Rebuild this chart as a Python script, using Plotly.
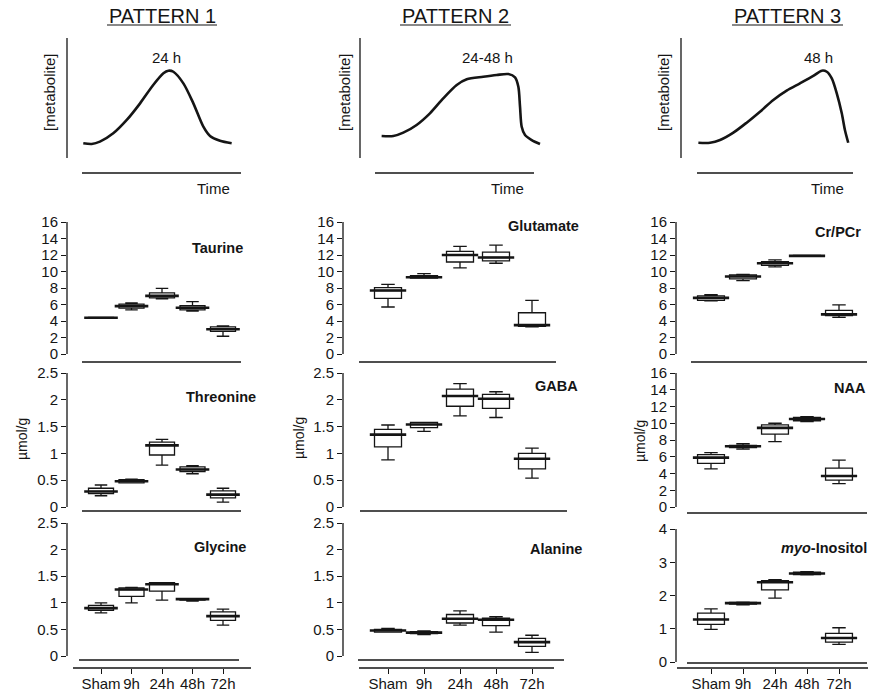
import plotly.graph_objects as go

W, H = 870, 692
FONT = "Liberation Sans, Arial, sans-serif"
INK = "#151515"

# ---------------- data ----------------
CATEGORIES = ["Sham", "9h", "24h", "48h", "72h"]
CAT_POS = [0, 1, 2, 3, 4]

# schematic curves (arbitrary units: time 0-100, metabolite level 0-100)
P1_TIME = [8.8, 13.4, 17.8, 25.0, 32.3, 39.5, 46.6, 52.1, 54.8, 57.5, 62.9, 68.3, 73.7, 77.3, 82.7, 89.0]
P1_LEVEL = [22.0, 21.5, 23.2, 29.4, 39.3, 51.6, 65.2, 73.9, 75.8, 75.0, 66.4, 51.6, 34.3, 27.4, 23.9, 22.0]
P2_TIME = [11.7, 18.0, 23.4, 30.6, 37.8, 45.0, 52.3, 57.7, 66.6, 73.9, 80.2, 83.8, 85.6, 86.5, 87.4, 89.2, 92.8, 97.3]
P2_LEVEL = [27.4, 27.4, 29.9, 35.6, 44.2, 55.3, 65.2, 69.4, 71.3, 72.6, 73.3, 70.9, 63.9, 49.1, 34.3, 28.1, 24.4, 21.5]
P3_TIME = [9.4, 15.7, 21.1, 28.3, 35.5, 42.7, 49.9, 57.1, 64.3, 71.5, 76.1, 78.8, 81.5, 84.2, 86.9, 88.6, 90.4]
P3_LEVEL = [22.4, 22.4, 24.4, 29.9, 37.3, 45.4, 54.1, 61.0, 66.4, 71.9, 75.8, 75.0, 70.1, 59.0, 44.2, 31.9, 22.4]

# box statistics (umol/g): lower whisker, q1, median, q3, upper whisker
TAURINE_LO = [4.35, 5.35, 6.70, 5.20, 2.15]
TAURINE_Q1 = [4.37, 5.55, 6.80, 5.35, 2.75]
TAURINE_MED = [4.40, 5.80, 7.05, 5.60, 3.00]
TAURINE_Q3 = [4.43, 6.05, 7.40, 5.85, 3.30]
TAURINE_HI = [4.45, 6.20, 7.95, 6.35, 3.40]

GLUTAMATE_LO = [5.70, 9.20, 10.45, 11.00, 3.30]
GLUTAMATE_Q1 = [6.75, 9.20, 11.15, 11.30, 3.35]
GLUTAMATE_MED = [7.70, 9.30, 12.00, 11.70, 3.50]
GLUTAMATE_Q3 = [8.05, 9.50, 12.45, 12.35, 5.00]
GLUTAMATE_HI = [8.45, 9.75, 13.05, 13.20, 6.50]

CRPCR_LO = [6.45, 8.90, 10.55, 11.85, 4.45]
CRPCR_Q1 = [6.50, 9.10, 10.75, 11.85, 4.65]
CRPCR_MED = [6.80, 9.40, 11.00, 11.90, 4.80]
CRPCR_Q3 = [7.05, 9.60, 11.20, 11.95, 5.30]
CRPCR_HI = [7.20, 9.65, 11.40, 11.95, 5.95]

THREONINE_LO = [0.21, 0.45, 0.78, 0.62, 0.09]
THREONINE_Q1 = [0.25, 0.45, 0.97, 0.66, 0.17]
THREONINE_MED = [0.29, 0.48, 1.15, 0.70, 0.23]
THREONINE_Q3 = [0.35, 0.51, 1.21, 0.75, 0.30]
THREONINE_HI = [0.41, 0.52, 1.26, 0.77, 0.35]

GABA_LO = [0.88, 1.41, 1.70, 1.67, 0.54]
GABA_Q1 = [1.12, 1.48, 1.88, 1.84, 0.71]
GABA_MED = [1.35, 1.54, 2.07, 2.02, 0.90]
GABA_Q3 = [1.45, 1.58, 2.20, 2.10, 1.00]
GABA_HI = [1.53, 1.58, 2.30, 2.15, 1.10]

NAA_LO = [4.55, 6.90, 7.80, 10.20, 2.80]
NAA_Q1 = [5.20, 7.10, 8.70, 10.30, 3.20]
NAA_MED = [5.90, 7.25, 9.45, 10.50, 3.70]
NAA_Q3 = [6.25, 7.35, 9.80, 10.70, 4.65]
NAA_HI = [6.50, 7.55, 10.00, 10.80, 5.60]

GLYCINE_LO = [0.81, 1.00, 1.05, 1.03, 0.58]
GLYCINE_Q1 = [0.86, 1.12, 1.22, 1.05, 0.67]
GLYCINE_MED = [0.90, 1.25, 1.35, 1.07, 0.75]
GLYCINE_Q3 = [0.95, 1.28, 1.38, 1.08, 0.83]
GLYCINE_HI = [1.00, 1.29, 1.38, 1.08, 0.88]

ALANINE_LO = [0.45, 0.40, 0.58, 0.45, 0.07]
ALANINE_Q1 = [0.45, 0.42, 0.62, 0.57, 0.18]
ALANINE_MED = [0.48, 0.44, 0.70, 0.68, 0.26]
ALANINE_Q3 = [0.50, 0.46, 0.78, 0.71, 0.33]
ALANINE_HI = [0.52, 0.47, 0.85, 0.74, 0.39]

MYO_LO = [0.98, 1.72, 1.92, 2.62, 0.53]
MYO_Q1 = [1.13, 1.74, 2.17, 2.63, 0.60]
MYO_MED = [1.28, 1.77, 2.40, 2.66, 0.72]
MYO_Q3 = [1.47, 1.79, 2.45, 2.70, 0.86]
MYO_HI = [1.60, 1.80, 2.48, 2.72, 1.03]

TICKS_16 = [0, 2, 4, 6, 8, 10, 12, 14, 16]
TICKS_25 = [0, 0.5, 1, 1.5, 2, 2.5]
TICKS_25_TEXT = ["0", "0.5", "1", "1.5", "2", "2.5"]
TICKS_4 = [0, 1, 2, 3, 4]

# ---------------- layout helpers (positions given in window pixels) ----------------
def fx(px):
    return px / W


def fy(py):
    return 1 - py / H


COLS = {
    1: dict(axis=67, right=252, c0=101, step=30.5, boxw=0.82),
    2: dict(axis=343, right=578, c0=388, step=36.0, boxw=0.75),
    3: dict(axis=676, right=869, c0=711, step=32.0, boxw=0.84),
}

PANELS = [
    ("<b>Taurine</b>", 1, 222, 354, 16, 366, TICKS_16, None,
     (TAURINE_LO, TAURINE_Q1, TAURINE_MED, TAURINE_Q3, TAURINE_HI), (218, 248), (82, 241, 362)),
    ("<b>Glutamate</b>", 2, 222, 354, 16, 366, TICKS_16, None,
     (GLUTAMATE_LO, GLUTAMATE_Q1, GLUTAMATE_MED, GLUTAMATE_Q3, GLUTAMATE_HI), (543, 226), (359, 556, 362)),
    ("<b>Cr/PCr</b>", 3, 222, 354, 16, 366, TICKS_16, None,
     (CRPCR_LO, CRPCR_Q1, CRPCR_MED, CRPCR_Q3, CRPCR_HI), (838, 232), (691, 867, 362)),
    ("<b>Threonine</b>", 1, 373, 507, 2.5, 515, TICKS_25, TICKS_25_TEXT,
     (THREONINE_LO, THREONINE_Q1, THREONINE_MED, THREONINE_Q3, THREONINE_HI), (221, 397), (82, 241, 511)),
    ("<b>GABA</b>", 2, 373, 507, 2.5, 515, TICKS_25, TICKS_25_TEXT,
     (GABA_LO, GABA_Q1, GABA_MED, GABA_Q3, GABA_HI), (556, 386), (360, 567, 511)),
    ("<b>NAA</b>", 3, 373, 507, 16, 515, TICKS_16, None,
     (NAA_LO, NAA_Q1, NAA_MED, NAA_Q3, NAA_HI), (850, 388), (687, 867, 513)),
    ("<b>Glycine</b>", 1, 523, 656, 2.5, 668, TICKS_25, TICKS_25_TEXT,
     (GLYCINE_LO, GLYCINE_Q1, GLYCINE_MED, GLYCINE_Q3, GLYCINE_HI), (220, 547), (79, 239, 660)),
    ("<b>Alanine</b>", 2, 523, 656, 2.5, 668, TICKS_25, TICKS_25_TEXT,
     (ALANINE_LO, ALANINE_Q1, ALANINE_MED, ALANINE_Q3, ALANINE_HI), (556, 549), (358, 564, 660)),
    ("<b><i>myo</i>-Inositol</b>", 3, 529, 662, 4, 668, TICKS_4, None,
     (MYO_LO, MYO_Q1, MYO_MED, MYO_Q3, MYO_HI), (824, 548), (687, 867, 663)),
]

OUTER_AXIS = {1: (73, 251), 2: (359, 554), 3: (677, 868)}

fig = go.Figure()
layout = dict(
    width=W, height=H, autosize=False,
    margin=dict(l=0, r=0, t=0, b=0, pad=0, autoexpand=False),
    paper_bgcolor="white", plot_bgcolor="rgba(0,0,0,0)",
    showlegend=False,
    font=dict(family=FONT, color=INK),
)
shapes = []
annotations = []


def line_shape(x0, y0, x1, y1, width=1.3):
    shapes.append(dict(type="line", xref="paper", yref="paper",
                       x0=fx(x0), y0=fy(y0), x1=fx(x1), y1=fy(y1),
                       line=dict(color=INK, width=width)))


def text(xp, yp, s, size, angle=0):
    annotations.append(dict(xref="paper", yref="paper", x=fx(xp), y=fy(yp), text=s,
                            showarrow=False, xanchor="center", yanchor="middle",
                            textangle=angle, font=dict(size=size, family=FONT, color=INK)))


# ---------------- top schematic panels ----------------
TOP = [
    (P1_TIME, P1_LEVEL, 67, "PATTERN 1", 162, (107, 217), "24 h", 166, (82, 241), 213, 50),
    (P2_TIME, P2_LEVEL, 360, "PATTERN 2", 455, (400, 511), "24-48 h", 487, (375, 534), 507, 345),
    (P3_TIME, P3_LEVEL, 681, "PATTERN 3", 787, (732, 843), "48 h", 818, (697, 853), 827, 664),
]
n = 0
for t, lv, vx, title, tx, ul, peak, peakx, hl, timex, metx in TOP:
    n += 1
    fig.add_trace(go.Scatter(x=t, y=lv, mode="lines", xaxis=f"x{n}", yaxis=f"y{n}",
                             line=dict(shape="spline", smoothing=0.8, width=2.6, color=INK),
                             hoverinfo="skip"))
    layout[f"xaxis{n}"] = dict(domain=[fx(vx), fx(vx + 185)], range=[0, 100], visible=False,
                               anchor=f"y{n}", automargin=False)
    layout[f"yaxis{n}"] = dict(domain=[fy(173), fy(38)], range=[0, 100], visible=False,
                               anchor=f"x{n}", automargin=False)
    line_shape(vx, 38, vx, 158)
    line_shape(hl[0], 173, hl[1], 173)
    text(tx, 16, title, 20)
    line_shape(ul[0], 25, ul[1], 25, width=1.2)
    text(peakx, 57, peak, 15)
    text(timex, 188, "Time", 15)
    text(metx, 92, "[metabolite]", 15, angle=-90)

# ---------------- box panels ----------------
for title, col, T, Z, V, B, tv, tt, stats, tpos, hline in PANELS:
    n += 1
    c = COLS[col]
    lo, q1, med, q3, hi = stats
    r0 = (c["axis"] - c["c0"]) / c["step"]
    r1 = (c["right"] - c["c0"]) / c["step"]
    ppu = (Z - T) / V
    ybot = -(B - Z) / ppu
    bottom_row = B == 668

    fig.add_trace(go.Box(x=CAT_POS, q1=q1, median=med, q3=q3, lowerfence=lo, upperfence=hi,
                         width=c["boxw"], whiskerwidth=0.5, boxpoints=False,
                         fillcolor="white", line=dict(color=INK, width=1.3),
                         xaxis=f"x{n}", yaxis=f"y{n}", hoverinfo="skip"))
    fig.add_trace(go.Scatter(x=CAT_POS, y=med, mode="markers", xaxis=f"x{n}", yaxis=f"y{n}",
                             marker=dict(symbol="line-ew", size=c["boxw"] * c["step"] - 1,
                                         line=dict(color=INK, width=2.6)),
                             hoverinfo="skip"))
    xa = dict(domain=[fx(c["axis"]), fx(c["right"])], range=[r0, r1], anchor=f"y{n}",
              showgrid=False, zeroline=False, showline=False, automargin=False)
    if bottom_row:
        xa.update(tickmode="array", tickvals=CAT_POS, ticktext=CATEGORIES, ticks="outside",
                  ticklen=5, tickwidth=1.2, tickcolor=INK, tickangle=0,
                  ticklabelstandoff=-3,
                  tickfont=dict(size=15, family=FONT, color=INK))
        o = OUTER_AXIS[col]
        line_shape(o[0], 668, o[1], 668)
    else:
        xa.update(showticklabels=False, ticks="")
    layout[f"xaxis{n}"] = xa
    ya = dict(domain=[fy(B), fy(T)], range=[ybot, V], anchor=f"x{n}",
              showgrid=False, zeroline=False, showline=False, automargin=False,
              tickmode="array", tickvals=tv, ticks="outside", ticklen=5, tickwidth=1.2,
              tickcolor=INK, tickfont=dict(size=15, family=FONT, color=INK))
    if tt is not None:
        ya["ticktext"] = tt
    layout[f"yaxis{n}"] = ya
    line_shape(c["axis"], Z, c["axis"], T)
    line_shape(hline[0], hline[2], hline[1], hline[2])
    text(tpos[0], tpos[1], title, 14.5)

# unit labels
text(22, 439, "µmol/g", 14, angle=-90)
text(299, 438, "µmol/g", 14, angle=-90)
text(640, 441, "µmol/g", 14, angle=-90)

layout["shapes"] = shapes
layout["annotations"] = annotations
fig.update_layout(**layout)
fig.write_html(
    "out.html",
    config={"displayModeBar": False},
    post_script="document.body.style.margin='0';document.body.style.overflow='hidden';",
)
